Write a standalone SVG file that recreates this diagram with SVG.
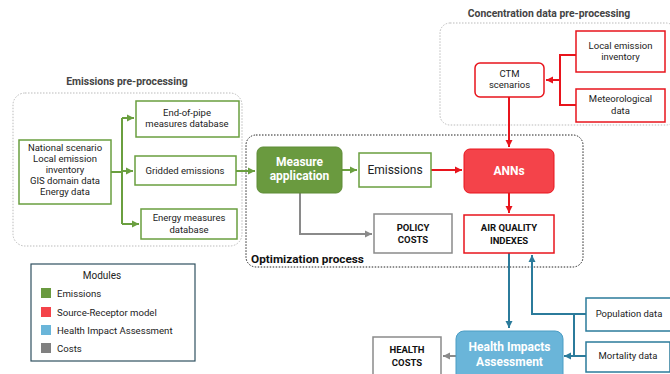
<svg xmlns="http://www.w3.org/2000/svg" width="670" height="374" viewBox="0 0 670 374">
<defs>
<style>
text{font-family:Roboto,"Liberation Sans",sans-serif;fill:#222;}
.t{font-size:9.5px;text-anchor:middle;}
.h{font-size:10.4px;font-weight:bold;text-anchor:middle;fill:#444;}
.b{font-size:9.5px;font-weight:bold;text-anchor:middle;fill:#111;}
.w{font-size:12px;font-weight:bold;text-anchor:middle;fill:#fff;}
.g{fill:#fff;stroke:#6a9f3f;stroke-width:1.5;}
.r{fill:#fff;stroke:#e8141c;stroke-width:1.5;}
.bl{fill:#fff;stroke:#2b7b9b;stroke-width:1.5;}
.gr{fill:#fff;stroke:#8a8a8a;stroke-width:1.5;}
.dot{fill:none;stroke:#bbb;stroke-width:1;stroke-dasharray:1.5 1.5;}
.cg{fill:none;stroke:#6a9f3f;stroke-width:2;}
.cr{fill:none;stroke:#e8141c;stroke-width:2;}
.cb{fill:none;stroke:#2b7b9b;stroke-width:2;}
.cgr{fill:none;stroke:#8a8a8a;stroke-width:2;}
.lg{font-size:9.6px;}
</style>
<marker id="ag" markerWidth="8" markerHeight="8" refX="7" refY="4" orient="auto" markerUnits="userSpaceOnUse"><path d="M0,0.5 L7,4 L0,7.5 z" fill="#6a9f3f"/></marker>
<marker id="ar" markerWidth="8" markerHeight="8" refX="7" refY="4" orient="auto" markerUnits="userSpaceOnUse"><path d="M0,0.5 L7,4 L0,7.5 z" fill="#e8141c"/></marker>
<marker id="ab" markerWidth="8" markerHeight="8" refX="7" refY="4" orient="auto" markerUnits="userSpaceOnUse"><path d="M0,0.5 L7,4 L0,7.5 z" fill="#2b7b9b"/></marker>
<marker id="agr" markerWidth="8" markerHeight="8" refX="7" refY="4" orient="auto" markerUnits="userSpaceOnUse"><path d="M0,0.5 L7,4 L0,7.5 z" fill="#8a8a8a"/></marker>
</defs>
<rect width="670" height="374" fill="#fff"/>

<g id="groups">
<text class="h" x="127" y="85">Emissions pre-processing</text>
<rect class="dot" x="13" y="93" width="229" height="153" rx="12"/>
<text class="h" x="549" y="17">Concentration data pre-processing</text>
<rect class="dot" x="440" y="23" width="236" height="102" rx="10"/>
<rect x="246" y="135" width="337" height="132" rx="10" fill="none" stroke="#222" stroke-width="1" stroke-dasharray="1.5 1.5"/>
<text x="251" y="263" style="font-size:11.8px;font-weight:bold;fill:#111">Optimization process</text>
</g>

<g id="connectors">
<path class="cg" d="M111,172 H122 M122,118 V224"/>
<path class="cg" d="M122,118 H134" marker-end="url(#ag)"/>
<path class="cg" d="M122,171 H133" marker-end="url(#ag)"/>
<path class="cg" d="M122,224 H139" marker-end="url(#ag)"/>
<path class="cg" d="M236,171 H255" marker-end="url(#ag)"/>
<path class="cg" d="M342,170 H357" marker-end="url(#ag)"/>
<path class="cr" d="M431,170 H462" marker-end="url(#ar)"/>
<path class="cr" d="M576,55 H560 V105 H576"/>
<path class="cr" d="M560,80 H546" marker-end="url(#ar)"/>
<path class="cr" d="M509,97 V147" marker-end="url(#ar)"/>
<path class="cr" d="M509,193 V213" marker-end="url(#ar)"/>
<path class="cgr" d="M300,193 V234 H372" marker-end="url(#agr)"/>
<path class="cb" d="M509,253 V328" marker-end="url(#ab)"/>
<path class="cb" d="M586,314 H532 V255" marker-end="url(#ab)"/>
<path class="cb" d="M574,314 V356"/>
<path class="cb" d="M586,356 H564" marker-end="url(#ab)"/>
<path class="cgr" d="M456,356 H443" marker-end="url(#agr)"/>
</g>

<g id="inputs">
<rect class="g" x="19" y="140" width="92" height="64"/>
<text class="t" x="65" y="151">National scenario</text>
<text class="t" x="65" y="162">Local emission</text>
<text class="t" x="65" y="173">inventory</text>
<text class="t" x="65" y="184">GIS domain data</text>
<text class="t" x="65" y="195">Energy data</text>
</g>
<g id="endofpipe">
<rect class="g" x="136" y="101" width="103" height="36"/>
<text class="t" x="187" y="116">End-of-pipe</text>
<text class="t" x="187" y="127">measures database</text>
</g>
<g id="gridded">
<rect class="g" x="135" y="156" width="101" height="29"/>
<text class="t" x="185" y="173.5">Gridded emissions</text>
</g>
<g id="energymeasures">
<rect class="g" x="141" y="209" width="96" height="30"/>
<text class="t" x="189" y="221">Energy measures</text>
<text class="t" x="189" y="233">database</text>
</g>

<g id="measure">
<rect x="257" y="147" width="85" height="46" rx="6" fill="#6a9a3f" stroke="#5e8c36" stroke-width="1"/>
<text class="w" x="299.5" y="166">Measure</text>
<text class="w" x="299.5" y="180">application</text>
</g>
<g id="emissions">
<rect class="g" x="359" y="153" width="72" height="34"/>
<text x="395" y="174" style="font-size:12px;text-anchor:middle">Emissions</text>
</g>
<g id="anns">
<rect x="464" y="149" width="90" height="44" rx="6" fill="#f4434a" stroke="#e8141c" stroke-width="1"/>
<text class="w" x="509" y="175">ANNs</text>
</g>
<g id="policycosts">
<rect class="gr" x="374" y="214" width="78" height="39"/>
<text class="b" x="413" y="231">POLICY</text>
<text class="b" x="413" y="243">COSTS</text>
</g>
<g id="aqi">
<rect class="r" x="464" y="215" width="90" height="38"/>
<text class="b" x="509" y="231">AIR QUALITY</text>
<text class="b" x="509" y="244">INDEXES</text>
</g>

<g id="ctm">
<rect class="r" x="475" y="63" width="69" height="34" rx="5"/>
<text class="t" x="509.5" y="77">CTM</text>
<text class="t" x="509.5" y="88">scenarios</text>
</g>
<g id="localemission">
<rect class="r" x="576" y="31" width="89" height="41"/>
<text class="t" x="620.5" y="49">Local emission</text>
<text class="t" x="620.5" y="60">inventory</text>
</g>
<g id="meteo">
<rect class="r" x="576" y="89" width="89" height="33"/>
<text class="t" x="620.5" y="102">Meteorological</text>
<text class="t" x="620.5" y="114">data</text>
</g>

<g id="hia">
<rect x="456" y="331" width="107" height="60" rx="8" fill="#6ab5d9" stroke="#4a9dc4" stroke-width="1"/>
<text class="w" x="509.5" y="351">Health Impacts</text>
<text class="w" x="509.5" y="366">Assessment</text>
</g>
<g id="healthcosts">
<rect class="gr" x="373" y="337" width="68" height="50"/>
<text class="b" x="407" y="353">HEALTH</text>
<text class="b" x="407" y="366">COSTS</text>
</g>
<g id="population">
<rect class="bl" x="586" y="298" width="90" height="33"/>
<text class="t" x="629" y="317">Population data</text>
</g>
<g id="mortality">
<rect class="bl" x="586" y="342" width="84" height="30"/>
<text class="t" x="628" y="359">Mortality data</text>
</g>

<g id="legend">
<rect x="31" y="264" width="164" height="97" fill="#fff" stroke="#2f5060" stroke-width="1.2"/>
<text x="102" y="279" style="font-size:10px;text-anchor:middle">Modules</text>
<rect x="41" y="288" width="10" height="10" fill="#6a9a3f"/>
<text class="lg" x="57" y="297">Emissions</text>
<rect x="41" y="307" width="10" height="10" fill="#f4434a"/>
<text class="lg" x="57" y="316">Source-Receptor model</text>
<rect x="41" y="325" width="10" height="10" fill="#6ab5d9"/>
<text class="lg" x="57" y="334">Health Impact Assessment</text>
<rect x="41" y="343" width="10" height="10" fill="#808080"/>
<text class="lg" x="57" y="352">Costs</text>
</g>
</svg>
